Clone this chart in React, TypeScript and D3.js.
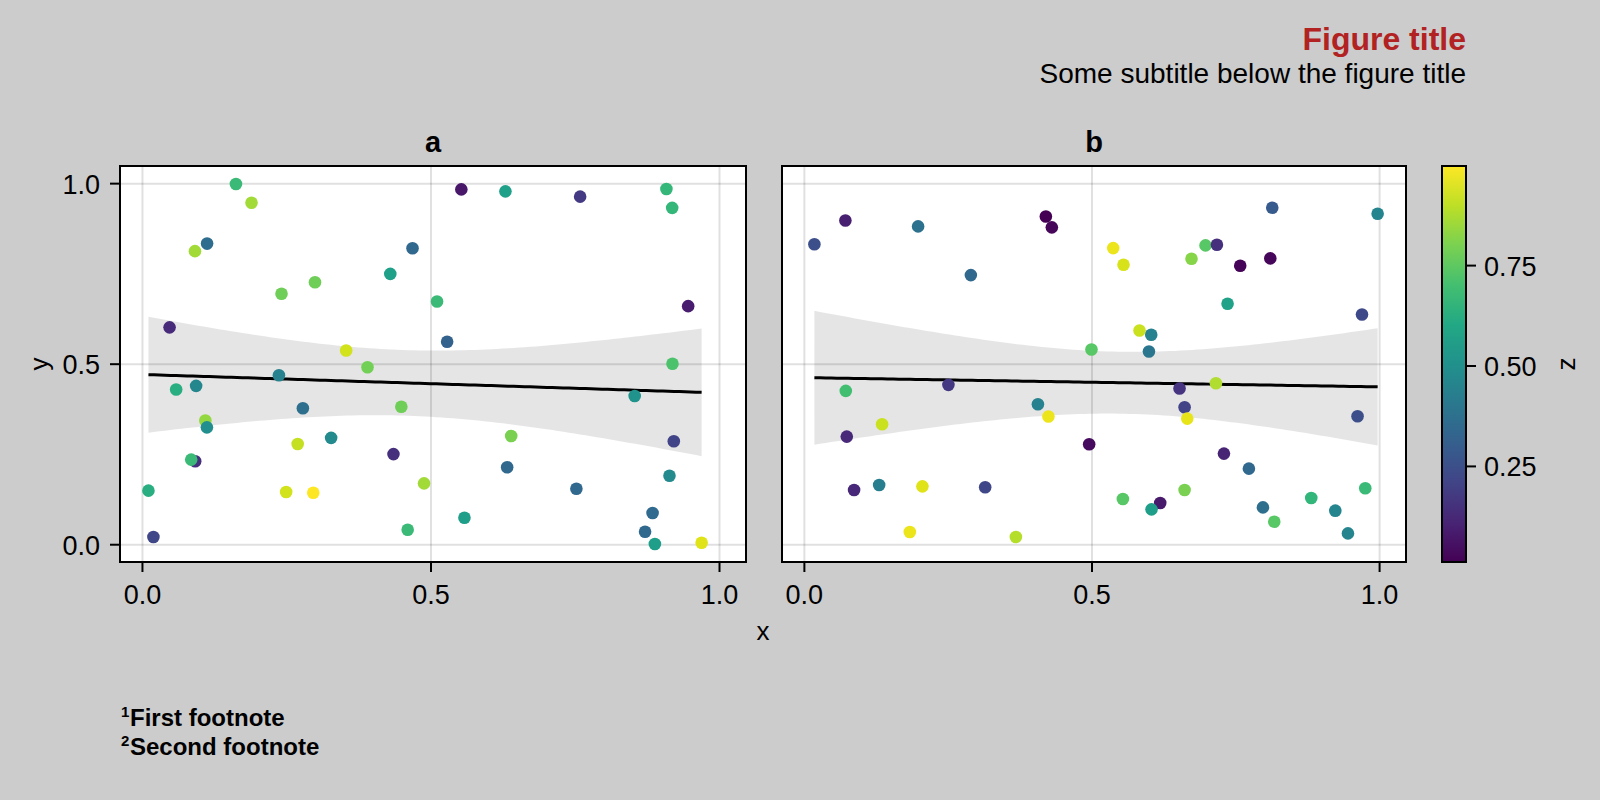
import React from "react";
import * as d3 from "d3";

// panel a
const aX = [0.162, 0.189, 0.112, 0.091, 0.468, 0.4295, 0.299, 0.241, 0.047, 0.353, 0.39, 0.2365, 0.0584, 0.093, 0.278, 0.4486, 0.109, 0.1117, 0.327, 0.269, 0.435, 0.0914, 0.0845, 0.488, 0.0104, 0.249, 0.296, 0.4596, 0.019, 0.5526, 0.629, 0.7585, 0.908, 0.918, 0.5105, 0.9457, 0.528, 0.9185, 0.853, 0.639, 0.9208, 0.632, 0.9133, 0.752, 0.558, 0.884, 0.871, 0.888, 0.969];
const aY = [0.999, 0.947, 0.834, 0.813, 0.821, 0.75, 0.727, 0.695, 0.602, 0.538, 0.4916, 0.4695, 0.43, 0.44, 0.378, 0.382, 0.344, 0.325, 0.296, 0.279, 0.251, 0.231, 0.2357, 0.17, 0.1497, 0.146, 0.144, 0.0416, 0.0213, 0.984, 0.9787, 0.964, 0.985, 0.933, 0.6737, 0.6607, 0.562, 0.501, 0.412, 0.301, 0.2865, 0.2145, 0.191, 0.155, 0.0749, 0.0878, 0.036, 0.002, 0.0055];
const aZ = [0.68, 0.86, 0.36, 0.86, 0.34, 0.57, 0.78, 0.78, 0.13, 0.93, 0.79, 0.45, 0.63, 0.47, 0.37, 0.78, 0.84, 0.5, 0.48, 0.91, 0.15, 0.15, 0.68, 0.86, 0.63, 0.93, 0.998, 0.68, 0.22, 0.07, 0.57, 0.18, 0.67, 0.67, 0.68, 0.09, 0.32, 0.72, 0.52, 0.8, 0.21, 0.34, 0.48, 0.34, 0.56, 0.35, 0.34, 0.56, 0.95];

// panel b
const bX = [0.0174, 0.0713, 0.1977, 0.4198, 0.4302, 0.2894, 0.072, 0.2504, 0.406, 0.4243, 0.1351, 0.0737, 0.0864, 0.13, 0.2052, 0.3143, 0.1833, 0.3677, 0.8134, 0.9966, 0.5369, 0.5548, 0.6974, 0.7172, 0.673, 0.7577, 0.81, 0.7357, 0.9694, 0.5826, 0.603, 0.599, 0.4991, 0.6522, 0.7155, 0.661, 0.6656, 0.9617, 0.4951, 0.7294, 0.7728, 0.5537, 0.6186, 0.6035, 0.661, 0.7972, 0.8169, 0.8812, 0.923, 0.9751, 0.945];
const bY = [0.832, 0.898, 0.8816, 0.909, 0.879, 0.7467, 0.426, 0.4427, 0.389, 0.355, 0.3336, 0.2994, 0.1516, 0.1655, 0.1617, 0.159, 0.0352, 0.0213, 0.9334, 0.9168, 0.8215, 0.7754, 0.829, 0.8309, 0.792, 0.7726, 0.793, 0.6673, 0.6376, 0.5933, 0.5814, 0.535, 0.5406, 0.4325, 0.4472, 0.3807, 0.3493, 0.3557, 0.2781, 0.2523, 0.2107, 0.1267, 0.1156, 0.098, 0.1516, 0.1034, 0.0638, 0.1294, 0.0943, 0.1562, 0.0314];
const bZ = [0.25, 0.1, 0.38, 0.012, 0.03, 0.34, 0.7, 0.17, 0.45, 0.97, 0.92, 0.12, 0.12, 0.43, 0.95, 0.22, 0.97, 0.89, 0.29, 0.46, 0.97, 0.94, 0.74, 0.15, 0.82, 0.02, 0.03, 0.58, 0.23, 0.92, 0.45, 0.4, 0.74, 0.16, 0.88, 0.21, 0.96, 0.25, 0.04, 0.11, 0.34, 0.74, 0.08, 0.56, 0.8, 0.37, 0.74, 0.66, 0.46, 0.68, 0.46];

const axisTicks = [0, 0.5, 1];
const colorTicks = [0.25, 0.5, 0.75];
const panelTitles = ["a", "b"];
const footnotes = ["First footnote", "Second footnote"];

const FONT = "'Liberation Sans', Arial, sans-serif";
const W = 1600;
const H = 800;
const top = 166;
const bottom = 562;
const panelBoxes = [
  { left: 120, right: 746 },
  { left: 782, right: 1406 },
];
const cb = { left: 1442, right: 1466 };
const TICK_FS = 27;

// linear fit + 95% confidence band
function linearFit(xs: number[], ys: number[]) {
  const n = xs.length;
  const xbar = d3.mean(xs)!;
  const ybar = d3.mean(ys)!;
  let sxx = 0;
  let sxy = 0;
  xs.forEach((x, i) => {
    sxx += (x - xbar) ** 2;
    sxy += (x - xbar) * (ys[i] - ybar);
  });
  const b = sxy / sxx;
  const a = ybar - b * xbar;
  const sse = d3.sum(xs, (x, i) => (ys[i] - a - b * x) ** 2);
  const s = Math.sqrt(sse / (n - 2));
  const df = n - 2;
  const z = 1.959964;
  const t = z + (z ** 3 + z) / (4 * df) + (5 * z ** 5 + 16 * z ** 3 + 3 * z) / (96 * df * df);
  const [x0, x1] = d3.extent(xs) as [number, number];
  const grid = d3.range(0, 101).map((k) => x0 + ((x1 - x0) * k) / 100);
  return grid.map((x) => {
    const yhat = a + b * x;
    const se = s * Math.sqrt(1 / n + (x - xbar) ** 2 / sxx);
    return { x, y: yhat, lo: yhat - t * se, hi: yhat + t * se };
  });
}

function padded(vals: number[]) {
  const [lo, hi] = d3.extent(vals) as [number, number];
  const p = (hi - lo) * 0.05;
  return [lo - p, hi + p];
}

export default function App() {
  const series = [
    { x: aX, y: aY, z: aZ },
    { x: bX, y: bY, z: bZ },
  ];
  const xDomain = padded([...aX, ...bX]);
  const yDomain = padded([...aY, ...bY]);
  const zExtent = d3.extent([...aZ, ...bZ]) as [number, number];
  const color = d3.scaleSequential(d3.interpolateViridis).domain(zExtent);
  const y = d3.scaleLinear().domain(yDomain).range([bottom, top]);
  const cbScale = d3.scaleLinear().domain(zExtent).range([bottom, top]);
  const fmt = d3.format(".1f");
  const fmt2 = d3.format(".2f");
  const stops = d3.range(0, 11).map((k) => k / 10);

  return (
    <svg width={W} height={H} style={{ position: "absolute", left: 0, top: 0 }} fontFamily={FONT}>
      <defs>
        <linearGradient id="viridis" x1="0" y1="1" x2="0" y2="0">
          {stops.map((s) => (
            <stop key={s} offset={s} stopColor={d3.interpolateViridis(s)} />
          ))}
        </linearGradient>
      </defs>
      <rect width={W} height={H} fill="#cccccc" />

      <text x={1466} y={50} textAnchor="end" fontSize={32} fontWeight="bold" fill="#b22222">
        Figure title
      </text>
      <text x={1466} y={83} textAnchor="end" fontSize={28} fill="#000">
        Some subtitle below the figure title
      </text>

      {series.map((d, pi) => {
        const box = panelBoxes[pi];
        const x = d3.scaleLinear().domain(xDomain).range([box.left, box.right]);
        const fit = linearFit(d.x, d.y);
        const area = d3
          .area<any>()
          .x((p) => x(p.x))
          .y0((p) => y(p.lo))
          .y1((p) => y(p.hi));
        const line = d3
          .line<any>()
          .x((p) => x(p.x))
          .y((p) => y(p.y));
        return (
          <g key={pi}>
            <rect x={box.left} y={top} width={box.right - box.left} height={bottom - top} fill="#fff" />
            {axisTicks.map((t) => (
              <line key={"gx" + t} x1={x(t)} x2={x(t)} y1={top} y2={bottom} stroke="rgba(0,0,0,0.12)" strokeWidth={2} />
            ))}
            {axisTicks.map((t) => (
              <line key={"gy" + t} x1={box.left} x2={box.right} y1={y(t)} y2={y(t)} stroke="rgba(0,0,0,0.12)" strokeWidth={2} />
            ))}
            <path d={area(fit)!} fill="rgba(0,0,0,0.1)" />
            <path d={line(fit)!} fill="none" stroke="#000" strokeWidth={3} />
            {d.x.map((xv, i) => (
              <circle key={i} cx={x(xv)} cy={y(d.y[i])} r={6.3} fill={color(d.z[i])} />
            ))}
            <rect x={box.left} y={top} width={box.right - box.left} height={bottom - top} fill="none" stroke="#000" strokeWidth={2} />
            {axisTicks.map((t) => (
              <g key={"tx" + t}>
                <line x1={x(t)} x2={x(t)} y1={bottom} y2={bottom + 10} stroke="#000" strokeWidth={2} />
                <text x={x(t)} y={604} textAnchor="middle" fontSize={TICK_FS}>
                  {fmt(t)}
                </text>
              </g>
            ))}
            {pi === 0 &&
              axisTicks.map((t) => (
                <g key={"ty" + t}>
                  <line x1={box.left - 10} x2={box.left} y1={y(t)} y2={y(t)} stroke="#000" strokeWidth={2} />
                  <text x={100} y={y(t) + 10} textAnchor="end" fontSize={TICK_FS}>
                    {fmt(t)}
                  </text>
                </g>
              ))}
            <text x={(box.left + box.right) / 2} y={152} textAnchor="middle" fontSize={29} fontWeight="bold">
              {panelTitles[pi]}
            </text>
          </g>
        );
      })}

      <text x={(panelBoxes[0].left + panelBoxes[1].right) / 2} y={640} textAnchor="middle" fontSize={26}>
        x
      </text>
      <text transform={`translate(48,${(top + bottom) / 2}) rotate(-90)`} textAnchor="middle" fontSize={26}>
        y
      </text>

      <rect x={cb.left} y={top} width={cb.right - cb.left} height={bottom - top} fill="url(#viridis)" stroke="#000" strokeWidth={2} />
      {colorTicks.map((t) => (
        <g key={"c" + t}>
          <line x1={cb.right} x2={cb.right + 10} y1={cbScale(t)} y2={cbScale(t)} stroke="#000" strokeWidth={2} />
          <text x={1484} y={cbScale(t) + 10} fontSize={TICK_FS}>
            {fmt2(t)}
          </text>
        </g>
      ))}
      <text transform={`translate(1575,${(top + bottom) / 2}) rotate(-90)`} textAnchor="middle" fontSize={26}>
        z
      </text>

      {footnotes.map((f, i) => (
        <g key={f}>
          <text x={121} y={717 + i * 29.3} fontSize={15} fontWeight="bold">
            {i + 1}
          </text>
          <text x={130} y={725.7 + i * 29.3} fontSize={24} fontWeight="bold">
            {f}
          </text>
        </g>
      ))}
    </svg>
  );
}
